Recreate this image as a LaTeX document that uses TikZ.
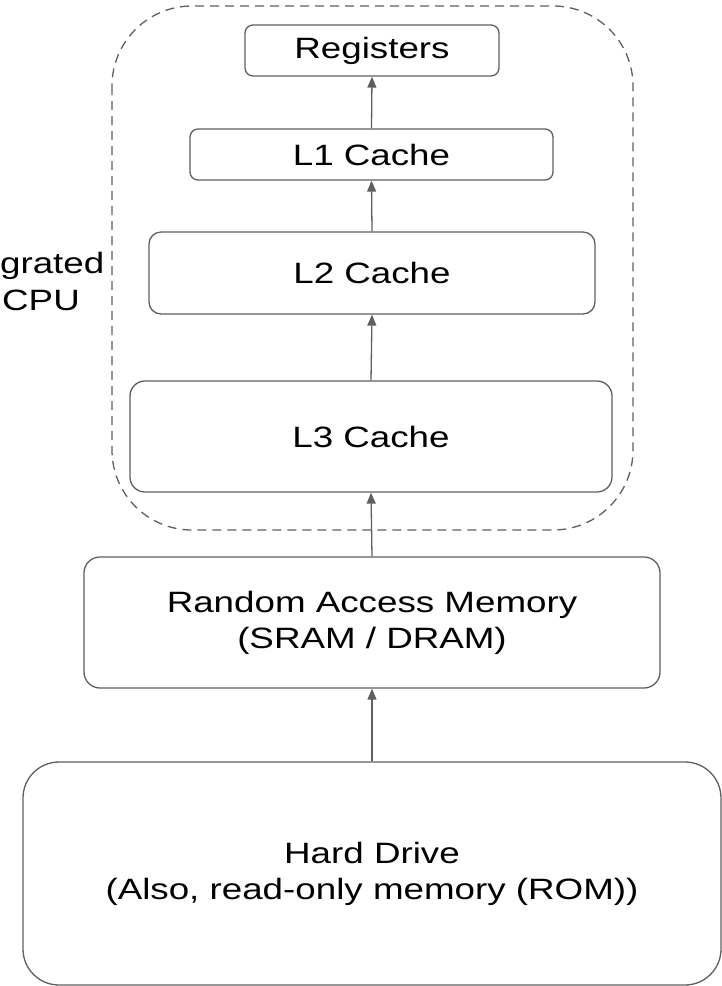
\documentclass[tikz,border=0pt]{standalone}
\usepackage{fontspec}
\setmainfont{Liberation Sans}[FakeStretch=1.25]
\usepackage{tikz}
\usetikzlibrary{arrows.meta,positioning}
\definecolor{edgegray}{HTML}{5F5F5F}

\begin{document}
\begin{tikzpicture}[x=1pt,y=-1pt,
  memblock/.style={draw=edgegray, line width=1.3pt, inner sep=0pt, align=center,
    font=\fontsize{29.4}{36}\selectfont},
  flow/.style={draw=edgegray, line width=1.3pt, -{Triangle[length=11pt,width=9pt]}},
  sidelabel/.style={font=\fontsize{29.4}{36}\selectfont, inner sep=0pt, anchor=base east}]
\useasboundingbox (0,0) rectangle (722,986);
% CPU boundary
\draw[edgegray, line width=1.3pt, dash pattern=on 9pt off 6pt, rounded corners=80pt] (112,6) rectangle (633,530);
\node[sidelabel] (cpulabA) at (104.5,273) {grated};
\node[sidelabel] (cpulabB) at (80,310) {CPU};
% memory levels
\node[memblock, minimum width=254pt, minimum height=51pt, rounded corners=8pt] (reg) at (372,50.5) {Registers};
\node[memblock, minimum width=363pt, minimum height=51pt, rounded corners=8pt] (lone) at (371.5,154.5) {L1 Cache};
\node[memblock, minimum width=446pt, minimum height=82pt, rounded corners=12pt] (ltwo) at (372,273) {L2 Cache};
\node[memblock, minimum width=482pt, minimum height=111pt, rounded corners=15pt] (lthree) at (371,436.5) {L3 Cache};
\node[memblock, minimum width=576pt, minimum height=131pt, rounded corners=16pt] (ram) at (372,622.5) {Random Access Memory\\(SRAM / DRAM)};
\node[memblock, minimum width=698pt, minimum height=223pt, rounded corners=36pt] (hdd) at (372,873.5) {Hard Drive\\(Also, read-only memory (ROM))};
% arrows
\draw[flow] (lone.north) -- (reg.south);
\draw[flow] (ltwo.north) -- (lone.south);
\draw[flow] (lthree.north) -- (ltwo.south);
\draw[flow] (ram.north) -- (lthree.south);
\draw[flow] (hdd.north) -- (ram.south);
\end{tikzpicture}
\end{document}
